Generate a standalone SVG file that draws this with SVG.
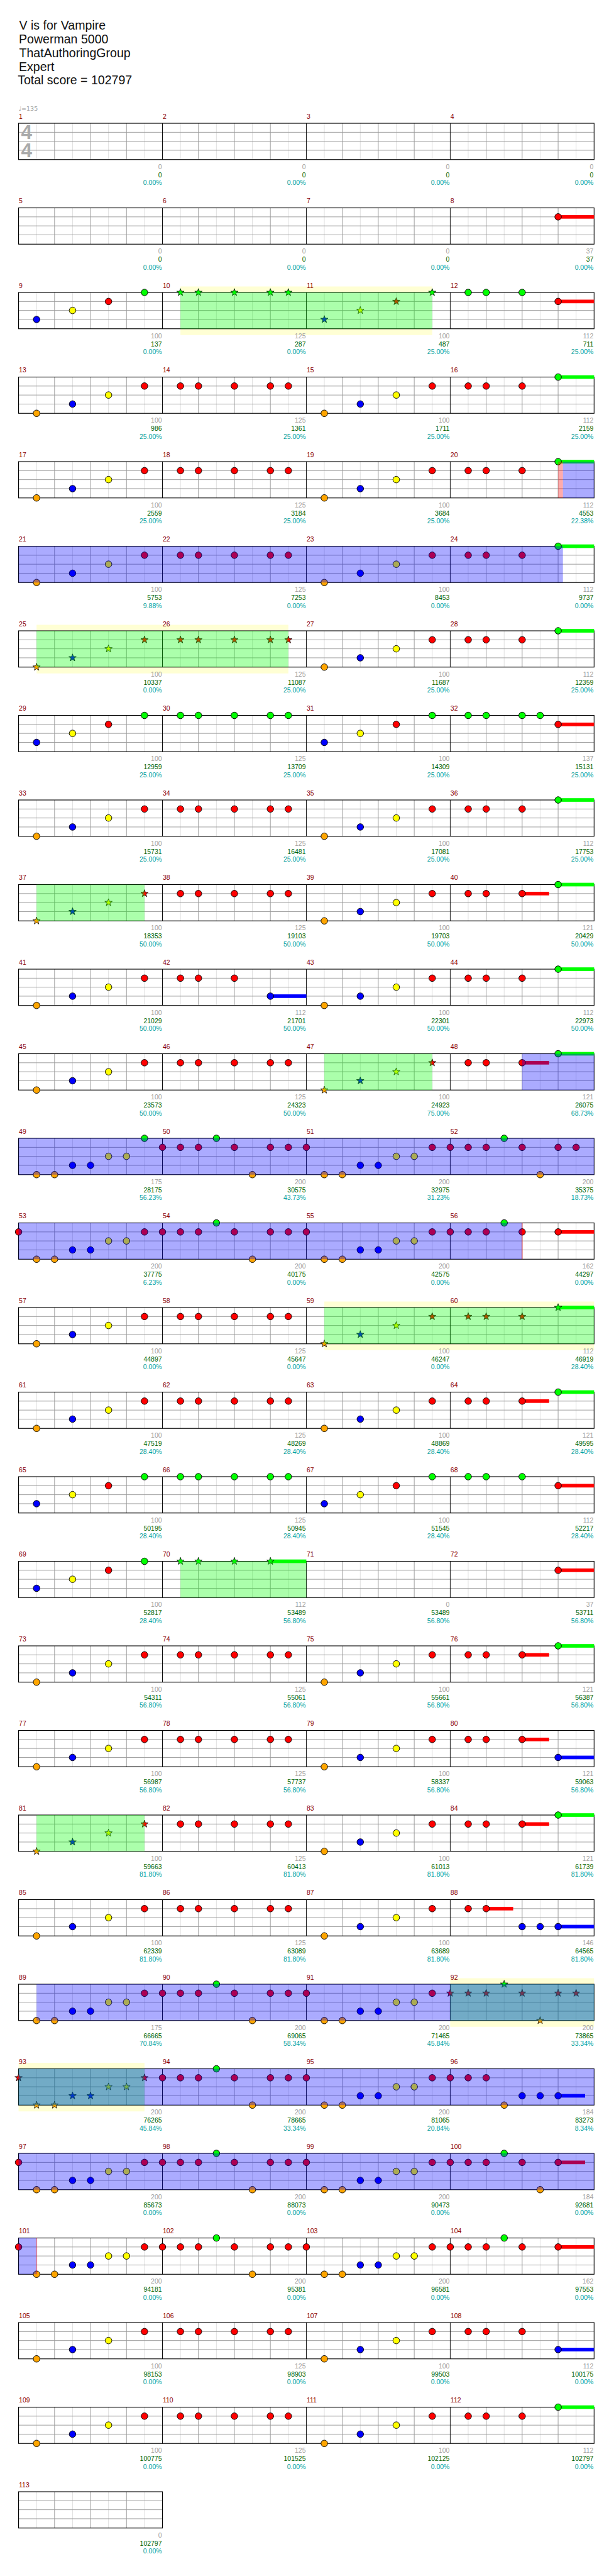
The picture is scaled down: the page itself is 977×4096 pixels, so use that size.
<svg xmlns="http://www.w3.org/2000/svg" width="977" height="4096" viewBox="0 0 977 4096">
<style>
text{font-family:"Liberation Sans",Arial,sans-serif}
.ti{font-size:20.5px;fill:#111}
.tp{font-family:"DejaVu Sans",sans-serif;font-size:10px;fill:#a0a0a0}
.ts{font-size:33px;font-weight:bold;fill:#aaa}
.mn{font-size:11px;fill:#8b0000}
.a,.c,.p{font-size:11px;text-anchor:end}
.a{fill:#a0a0a0}.c{fill:#006400}.p{fill:#00a0a0}
.g{fill:#00ff00}.r{fill:#ff0000}.y{fill:#ffff00}.b{fill:#0000ff}.o{fill:#ffa500}
.sp{fill:#00ff00;fill-opacity:.33}
.ov{fill:#0000ff;fill-opacity:.33}
.yb{fill:#ffffd4}
.pk{fill:#ff0000;fill-opacity:.33}
.lt{stroke:#ddd;stroke-width:1;fill:none}
.dk{stroke:#999;stroke-width:1;fill:none}
.bl{stroke:#000;stroke-width:1;fill:none}
.bd{stroke:#000;stroke-width:1.2;fill:none}
</style>
<defs>
<circle id="n" r="5.5" stroke="#000" stroke-width="1"/>
<path id="s" d="M0-6.5L1.53-2.1L6.18-2.01L2.47.8L3.82 5.26L0 2.6L-3.82 5.26L-2.47.8L-6.18-2.01L-1.53-2.1Z" stroke="#000" stroke-width=".8"/>
<g id="st4">
<rect x="31" y="0" width="960" height="60.5" fill="#fff"/>
<path class="lt" d="M61 0V60.5M121 0V60.5M181 0V60.5M241 0V60.5M301 0V60.5M361 0V60.5M421 0V60.5M481 0V60.5M541 0V60.5M601 0V60.5M661 0V60.5M721 0V60.5M781 0V60.5M841 0V60.5M901 0V60.5M961 0V60.5"/>
<path class="dk" d="M91 0V60.5M151 0V60.5M211 0V60.5M331 0V60.5M391 0V60.5M451 0V60.5M571 0V60.5M631 0V60.5M691 0V60.5M811 0V60.5M871 0V60.5M931 0V60.5M31 15H991M31 30H991M31 45H991"/>
<path class="bl" d="M271 0V60.5M511 0V60.5M751 0V60.5"/>
<rect class="bd" x="31" y="0" width="960" height="60.5"/>
</g>
<g id="st1">
<rect x="31" y="0" width="240" height="60.5" fill="#fff"/>
<path class="lt" d="M61 0V60.5M121 0V60.5M181 0V60.5M241 0V60.5"/>
<path class="dk" d="M91 0V60.5M151 0V60.5M211 0V60.5M31 15H271M31 30H271M31 45H271"/>
<rect class="bd" x="31" y="0" width="240" height="60.5"/>
</g>
<g id="pA"><use href="#n" class="o" x="61" y="60.5"/><use href="#n" class="b" x="121" y="45"/><use href="#n" class="y" x="181" y="30"/><use href="#n" class="r" x="241" y="15"/></g>
<g id="pB"><use href="#n" class="r" x="61" y="15"/><use href="#n" class="r" x="91" y="15"/><use href="#n" class="r" x="151" y="15"/><use href="#n" class="r" x="211" y="15"/><use href="#n" class="r" x="241" y="15"/></g>
<g id="pD"><use href="#n" class="r" x="61" y="15"/><use href="#n" class="r" x="91" y="15"/><use href="#n" class="r" x="151" y="15"/><rect class="g" x="211" y="-3" width="60" height="6"/><use href="#n" class="g" x="211" y="0"/></g>
<g id="pAu"><use href="#n" class="b" x="61" y="45"/><use href="#n" class="y" x="121" y="30"/><use href="#n" class="r" x="181" y="15"/><use href="#n" class="g" x="241" y="0"/></g>
<g id="pBg"><use href="#n" class="g" x="61" y="0"/><use href="#n" class="g" x="91" y="0"/><use href="#n" class="g" x="151" y="0"/><use href="#n" class="g" x="211" y="0"/><use href="#n" class="g" x="241" y="0"/></g>
<g id="pDg"><use href="#n" class="g" x="61" y="0"/><use href="#n" class="g" x="91" y="0"/><use href="#n" class="g" x="151" y="0"/><rect class="r" x="211" y="12" width="60" height="6"/><use href="#n" class="r" x="211" y="15"/></g>
<g id="pE"><use href="#n" class="r" x="61" y="15"/><use href="#n" class="r" x="91" y="15"/><rect class="r" x="151" y="12" width="45" height="6"/><use href="#n" class="r" x="151" y="15"/><rect class="g" x="211" y="-3" width="60" height="6"/><use href="#n" class="g" x="211" y="0"/></g>
<g id="pF"><use href="#n" class="r" x="61" y="15"/><use href="#n" class="r" x="91" y="15"/><rect class="r" x="151" y="12" width="45" height="6"/><use href="#n" class="r" x="151" y="15"/><rect class="b" x="211" y="42" width="60" height="6"/><use href="#n" class="b" x="211" y="45"/></g>
<g id="pG"><use href="#n" class="r" x="61" y="15"/><use href="#n" class="r" x="91" y="15"/><use href="#n" class="r" x="151" y="15"/><rect class="b" x="211" y="42" width="60" height="6"/><use href="#n" class="b" x="211" y="45"/></g>
<g id="pX"><use href="#n" class="r" x="31" y="15"/><use href="#n" class="o" x="61" y="60.5"/><use href="#n" class="o" x="91" y="60.5"/><use href="#n" class="b" x="121" y="45"/><use href="#n" class="b" x="151" y="45"/><use href="#n" class="y" x="181" y="30"/><use href="#n" class="y" x="211" y="30"/><use href="#n" class="r" x="241" y="15"/></g>
<g id="pY"><use href="#n" class="r" x="31" y="15"/><use href="#n" class="r" x="61" y="15"/><use href="#n" class="r" x="91" y="15"/><use href="#n" class="g" x="121" y="0"/><use href="#n" class="r" x="151" y="15"/><use href="#n" class="o" x="181" y="60.5"/><use href="#n" class="r" x="211" y="15"/><use href="#n" class="r" x="241" y="15"/></g>
<g id="pZ"><use href="#n" class="r" x="31" y="15"/><use href="#n" class="r" x="61" y="15"/><use href="#n" class="r" x="91" y="15"/><use href="#n" class="g" x="121" y="0"/><use href="#n" class="r" x="151" y="15"/><rect class="r" x="211" y="12" width="60" height="6"/><use href="#n" class="r" x="211" y="15"/></g>
</defs>
<g transform="scale(0.9539)">
<rect x="0" y="0" width="1024" height="4294" fill="#fff"/>
<g id="header">
<text class="ti" x="32" y="49">V is for Vampire</text>
<text class="ti" x="31.5" y="72">Powerman 5000</text>
<text class="ti" x="32" y="95">ThatAuthoringGroup</text>
<text class="ti" x="31.5" y="118">Expert</text>
<text class="ti" x="29.5" y="141">Total score = 102797</text>
</g>
<g id="connectors"></g>

<g id="row-m1" transform="translate(0,205.5)">
<use href="#st4"/>
<text class="ts" x="35" y="26.5">4</text><text class="ts" x="35" y="56.5">4</text>
<text class="tp" x="31" y="-21">♩=135</text>
<text class="mn" x="31.5" y="-7.5">1</text><text class="mn" x="271.5" y="-7.5">2</text><text class="mn" x="511.5" y="-7.5">3</text><text class="mn" x="751.5" y="-7.5">4</text>
<text class="a" x="270" y="76.5">0</text><text class="c" x="270" y="90">0</text><text class="p" x="270" y="103">0.00%</text>
<text class="a" x="510" y="76.5">0</text><text class="c" x="510" y="90">0</text><text class="p" x="510" y="103">0.00%</text>
<text class="a" x="750" y="76.5">0</text><text class="c" x="750" y="90">0</text><text class="p" x="750" y="103">0.00%</text>
<text class="a" x="990" y="76.5">0</text><text class="c" x="990" y="90">0</text><text class="p" x="990" y="103">0.00%</text>
</g>

<g id="row-m5" transform="translate(0,346.5)">
<use href="#st4"/>
<rect class="r" x="931" y="12" width="60" height="6"/><use href="#n" class="r" x="931" y="15"/>
<text class="mn" x="31.5" y="-7.5">5</text><text class="mn" x="271.5" y="-7.5">6</text><text class="mn" x="511.5" y="-7.5">7</text><text class="mn" x="751.5" y="-7.5">8</text>
<text class="a" x="270" y="76.5">0</text><text class="c" x="270" y="90">0</text><text class="p" x="270" y="103">0.00%</text>
<text class="a" x="510" y="76.5">0</text><text class="c" x="510" y="90">0</text><text class="p" x="510" y="103">0.00%</text>
<text class="a" x="750" y="76.5">0</text><text class="c" x="750" y="90">0</text><text class="p" x="750" y="103">0.00%</text>
<text class="a" x="990" y="76.5">37</text><text class="c" x="990" y="90">37</text><text class="p" x="990" y="103">0.00%</text>
</g>

<g id="row-m9" transform="translate(0,487.5)">
<rect class="yb" x="301" y="-10" width="420" height="81"/>
<use href="#st4"/>
<use href="#pAu"/>
<use href="#s" class="g" x="301" y="0"/><use href="#s" class="g" x="331" y="0"/><use href="#s" class="g" x="391" y="0"/><use href="#s" class="g" x="451" y="0"/><use href="#s" class="g" x="481" y="0"/>
<use href="#s" class="b" x="541" y="45"/><use href="#s" class="y" x="601" y="30"/><use href="#s" class="r" x="661" y="15"/><use href="#s" class="g" x="721" y="0"/>
<use href="#pDg" x="720"/>
<rect class="sp" x="301" y="0" width="420" height="60.5"/>
<text class="mn" x="31.5" y="-7.5">9</text><text class="mn" x="271.5" y="-7.5">10</text><text class="mn" x="511.5" y="-7.5">11</text><text class="mn" x="751.5" y="-7.5">12</text>
<text class="a" x="270" y="76.5">100</text><text class="c" x="270" y="90">137</text><text class="p" x="270" y="103">0.00%</text>
<text class="a" x="510" y="76.5">125</text><text class="c" x="510" y="90">287</text><text class="p" x="510" y="103">0.00%</text>
<text class="a" x="750" y="76.5">100</text><text class="c" x="750" y="90">487</text><text class="p" x="750" y="103">25.00%</text>
<text class="a" x="990" y="76.5">112</text><text class="c" x="990" y="90">711</text><text class="p" x="990" y="103">25.00%</text>
</g>

<g id="row-m13" transform="translate(0,628.5)">
<use href="#st4"/>
<use href="#pA"/><use href="#pB" x="240"/><use href="#pA" x="480"/><use href="#pD" x="720"/>
<text class="mn" x="31.5" y="-7.5">13</text><text class="mn" x="271.5" y="-7.5">14</text><text class="mn" x="511.5" y="-7.5">15</text><text class="mn" x="751.5" y="-7.5">16</text>
<text class="a" x="270" y="76.5">100</text><text class="c" x="270" y="90">986</text><text class="p" x="270" y="103">25.00%</text>
<text class="a" x="510" y="76.5">125</text><text class="c" x="510" y="90">1361</text><text class="p" x="510" y="103">25.00%</text>
<text class="a" x="750" y="76.5">100</text><text class="c" x="750" y="90">1711</text><text class="p" x="750" y="103">25.00%</text>
<text class="a" x="990" y="76.5">112</text><text class="c" x="990" y="90">2159</text><text class="p" x="990" y="103">25.00%</text>
</g>

<g id="row-m17" transform="translate(0,769.5)">
<use href="#st4"/>
<use href="#pA"/><use href="#pB" x="240"/><use href="#pA" x="480"/><use href="#pD" x="720"/>
<rect class="pk" x="931" y="0" width="8" height="60.5"/><rect class="ov" x="939" y="0" width="52" height="60.5"/>
<text class="mn" x="31.5" y="-7.5">17</text><text class="mn" x="271.5" y="-7.5">18</text><text class="mn" x="511.5" y="-7.5">19</text><text class="mn" x="751.5" y="-7.5">20</text>
<text class="a" x="270" y="76.5">100</text><text class="c" x="270" y="90">2559</text><text class="p" x="270" y="103">25.00%</text>
<text class="a" x="510" y="76.5">125</text><text class="c" x="510" y="90">3184</text><text class="p" x="510" y="103">25.00%</text>
<text class="a" x="750" y="76.5">100</text><text class="c" x="750" y="90">3684</text><text class="p" x="750" y="103">25.00%</text>
<text class="a" x="990" y="76.5">112</text><text class="c" x="990" y="90">4553</text><text class="p" x="990" y="103">22.38%</text>
</g>

<g id="row-m21" transform="translate(0,910.5)">
<use href="#st4"/>
<use href="#pA"/><use href="#pB" x="240"/><use href="#pA" x="480"/><use href="#pD" x="720"/>
<rect class="ov" x="31" y="0" width="908" height="60.5"/>
<text class="mn" x="31.5" y="-7.5">21</text><text class="mn" x="271.5" y="-7.5">22</text><text class="mn" x="511.5" y="-7.5">23</text><text class="mn" x="751.5" y="-7.5">24</text>
<text class="a" x="270" y="76.5">100</text><text class="c" x="270" y="90">5753</text><text class="p" x="270" y="103">9.88%</text>
<text class="a" x="510" y="76.5">125</text><text class="c" x="510" y="90">7253</text><text class="p" x="510" y="103">0.00%</text>
<text class="a" x="750" y="76.5">100</text><text class="c" x="750" y="90">8453</text><text class="p" x="750" y="103">0.00%</text>
<text class="a" x="990" y="76.5">112</text><text class="c" x="990" y="90">9737</text><text class="p" x="990" y="103">0.00%</text>
</g>

<g id="row-m25" transform="translate(0,1051.5)">
<rect class="yb" x="61" y="-10" width="420" height="81"/>
<use href="#st4"/>
<use href="#s" class="o" x="61" y="60.5"/><use href="#s" class="b" x="121" y="45"/><use href="#s" class="y" x="181" y="30"/><use href="#s" class="r" x="241" y="15"/>
<use href="#s" class="r" x="301" y="15"/><use href="#s" class="r" x="331" y="15"/><use href="#s" class="r" x="391" y="15"/><use href="#s" class="r" x="451" y="15"/><use href="#s" class="r" x="481" y="15"/>
<use href="#pA" x="480"/><use href="#pD" x="720"/>
<rect class="sp" x="61" y="0" width="420" height="60.5"/>
<text class="mn" x="31.5" y="-7.5">25</text><text class="mn" x="271.5" y="-7.5">26</text><text class="mn" x="511.5" y="-7.5">27</text><text class="mn" x="751.5" y="-7.5">28</text>
<text class="a" x="270" y="76.5">100</text><text class="c" x="270" y="90">10337</text><text class="p" x="270" y="103">0.00%</text>
<text class="a" x="510" y="76.5">125</text><text class="c" x="510" y="90">11087</text><text class="p" x="510" y="103">25.00%</text>
<text class="a" x="750" y="76.5">100</text><text class="c" x="750" y="90">11687</text><text class="p" x="750" y="103">25.00%</text>
<text class="a" x="990" y="76.5">112</text><text class="c" x="990" y="90">12359</text><text class="p" x="990" y="103">25.00%</text>
</g>

<g id="row-m29" transform="translate(0,1192.5)">
<use href="#st4"/>
<use href="#pAu"/><use href="#pBg" x="240"/><use href="#pAu" x="480"/>
<use href="#n" class="g" x="781" y="0"/><use href="#n" class="g" x="811" y="0"/><use href="#n" class="g" x="871" y="0"/><use href="#n" class="g" x="901" y="0"/>
<rect class="r" x="931" y="12" width="60" height="6"/><use href="#n" class="r" x="931" y="15"/>
<text class="mn" x="31.5" y="-7.5">29</text><text class="mn" x="271.5" y="-7.5">30</text><text class="mn" x="511.5" y="-7.5">31</text><text class="mn" x="751.5" y="-7.5">32</text>
<text class="a" x="270" y="76.5">100</text><text class="c" x="270" y="90">12959</text><text class="p" x="270" y="103">25.00%</text>
<text class="a" x="510" y="76.5">125</text><text class="c" x="510" y="90">13709</text><text class="p" x="510" y="103">25.00%</text>
<text class="a" x="750" y="76.5">100</text><text class="c" x="750" y="90">14309</text><text class="p" x="750" y="103">25.00%</text>
<text class="a" x="990" y="76.5">137</text><text class="c" x="990" y="90">15131</text><text class="p" x="990" y="103">25.00%</text>
</g>

<g id="row-m33" transform="translate(0,1333.5)">
<use href="#st4"/>
<use href="#pA"/><use href="#pB" x="240"/><use href="#pA" x="480"/><use href="#pD" x="720"/>
<text class="mn" x="31.5" y="-7.5">33</text><text class="mn" x="271.5" y="-7.5">34</text><text class="mn" x="511.5" y="-7.5">35</text><text class="mn" x="751.5" y="-7.5">36</text>
<text class="a" x="270" y="76.5">100</text><text class="c" x="270" y="90">15731</text><text class="p" x="270" y="103">25.00%</text>
<text class="a" x="510" y="76.5">125</text><text class="c" x="510" y="90">16481</text><text class="p" x="510" y="103">25.00%</text>
<text class="a" x="750" y="76.5">100</text><text class="c" x="750" y="90">17081</text><text class="p" x="750" y="103">25.00%</text>
<text class="a" x="990" y="76.5">112</text><text class="c" x="990" y="90">17753</text><text class="p" x="990" y="103">25.00%</text>
</g>

<g id="row-m37" transform="translate(0,1474.5)">
<use href="#st4"/>
<use href="#s" class="o" x="61" y="60.5"/><use href="#s" class="b" x="121" y="45"/><use href="#s" class="y" x="181" y="30"/><use href="#s" class="r" x="241" y="15"/>
<use href="#pB" x="240"/><use href="#pA" x="480"/><use href="#pE" x="720"/>
<rect class="sp" x="61" y="0" width="180" height="60.5"/>
<text class="mn" x="31.5" y="-7.5">37</text><text class="mn" x="271.5" y="-7.5">38</text><text class="mn" x="511.5" y="-7.5">39</text><text class="mn" x="751.5" y="-7.5">40</text>
<text class="a" x="270" y="76.5">100</text><text class="c" x="270" y="90">18353</text><text class="p" x="270" y="103">50.00%</text>
<text class="a" x="510" y="76.5">125</text><text class="c" x="510" y="90">19103</text><text class="p" x="510" y="103">50.00%</text>
<text class="a" x="750" y="76.5">100</text><text class="c" x="750" y="90">19703</text><text class="p" x="750" y="103">50.00%</text>
<text class="a" x="990" y="76.5">121</text><text class="c" x="990" y="90">20429</text><text class="p" x="990" y="103">50.00%</text>
</g>

<g id="row-m41" transform="translate(0,1615.5)">
<use href="#st4"/>
<use href="#pA"/><use href="#pG" x="240"/><use href="#pA" x="480"/><use href="#pD" x="720"/>
<text class="mn" x="31.5" y="-7.5">41</text><text class="mn" x="271.5" y="-7.5">42</text><text class="mn" x="511.5" y="-7.5">43</text><text class="mn" x="751.5" y="-7.5">44</text>
<text class="a" x="270" y="76.5">100</text><text class="c" x="270" y="90">21029</text><text class="p" x="270" y="103">50.00%</text>
<text class="a" x="510" y="76.5">112</text><text class="c" x="510" y="90">21701</text><text class="p" x="510" y="103">50.00%</text>
<text class="a" x="750" y="76.5">100</text><text class="c" x="750" y="90">22301</text><text class="p" x="750" y="103">50.00%</text>
<text class="a" x="990" y="76.5">112</text><text class="c" x="990" y="90">22973</text><text class="p" x="990" y="103">50.00%</text>
</g>

<g id="row-m45" transform="translate(0,1756.5)">
<use href="#st4"/>
<use href="#pA"/><use href="#pB" x="240"/>
<use href="#s" class="o" x="541" y="60.5"/><use href="#s" class="b" x="601" y="45"/><use href="#s" class="y" x="661" y="30"/><use href="#s" class="r" x="721" y="15"/>
<use href="#pE" x="720"/>
<rect class="sp" x="541" y="0" width="180" height="60.5"/>
<rect class="ov" x="871" y="0" width="120" height="60.5"/>
<text class="mn" x="31.5" y="-7.5">45</text><text class="mn" x="271.5" y="-7.5">46</text><text class="mn" x="511.5" y="-7.5">47</text><text class="mn" x="751.5" y="-7.5">48</text>
<text class="a" x="270" y="76.5">100</text><text class="c" x="270" y="90">23573</text><text class="p" x="270" y="103">50.00%</text>
<text class="a" x="510" y="76.5">125</text><text class="c" x="510" y="90">24323</text><text class="p" x="510" y="103">50.00%</text>
<text class="a" x="750" y="76.5">100</text><text class="c" x="750" y="90">24923</text><text class="p" x="750" y="103">75.00%</text>
<text class="a" x="990" y="76.5">121</text><text class="c" x="990" y="90">26075</text><text class="p" x="990" y="103">68.73%</text>
</g>

<g id="row-m49" transform="translate(0,1897.5)">
<use href="#st4"/>
<use href="#n" class="o" x="61" y="60.5"/><use href="#n" class="o" x="91" y="60.5"/><use href="#n" class="b" x="121" y="45"/><use href="#n" class="b" x="151" y="45"/><use href="#n" class="y" x="181" y="30"/><use href="#n" class="y" x="211" y="30"/><use href="#n" class="g" x="241" y="0"/>
<use href="#pY" x="240"/><use href="#pX" x="480"/><use href="#pY" x="720"/>
<rect class="ov" x="31" y="0" width="960" height="60.5"/>
<text class="mn" x="31.5" y="-7.5">49</text><text class="mn" x="271.5" y="-7.5">50</text><text class="mn" x="511.5" y="-7.5">51</text><text class="mn" x="751.5" y="-7.5">52</text>
<text class="a" x="270" y="76.5">175</text><text class="c" x="270" y="90">28175</text><text class="p" x="270" y="103">56.23%</text>
<text class="a" x="510" y="76.5">200</text><text class="c" x="510" y="90">30575</text><text class="p" x="510" y="103">43.73%</text>
<text class="a" x="750" y="76.5">200</text><text class="c" x="750" y="90">32975</text><text class="p" x="750" y="103">31.23%</text>
<text class="a" x="990" y="76.5">200</text><text class="c" x="990" y="90">35375</text><text class="p" x="990" y="103">18.73%</text>
</g>

<g id="row-m53" transform="translate(0,2038.5)">
<use href="#st4"/>
<use href="#pX"/><use href="#pY" x="240"/><use href="#pX" x="480"/><use href="#pZ" x="720"/>
<rect class="ov" x="31" y="0" width="840" height="60.5"/>
<rect class="pk" x="870" y="0" width="2" height="60.5"/>
<text class="mn" x="31.5" y="-7.5">53</text><text class="mn" x="271.5" y="-7.5">54</text><text class="mn" x="511.5" y="-7.5">55</text><text class="mn" x="751.5" y="-7.5">56</text>
<text class="a" x="270" y="76.5">200</text><text class="c" x="270" y="90">37775</text><text class="p" x="270" y="103">6.23%</text>
<text class="a" x="510" y="76.5">200</text><text class="c" x="510" y="90">40175</text><text class="p" x="510" y="103">0.00%</text>
<text class="a" x="750" y="76.5">200</text><text class="c" x="750" y="90">42575</text><text class="p" x="750" y="103">0.00%</text>
<text class="a" x="990" y="76.5">162</text><text class="c" x="990" y="90">44297</text><text class="p" x="990" y="103">0.00%</text>
</g>

<g id="row-m57" transform="translate(0,2179.5)">
<rect class="yb" x="541" y="-10" width="450" height="81"/>
<use href="#st4"/>
<use href="#pA"/><use href="#pB" x="240"/>
<use href="#s" class="o" x="541" y="60.5"/><use href="#s" class="b" x="601" y="45"/><use href="#s" class="y" x="661" y="30"/><use href="#s" class="r" x="721" y="15"/>
<use href="#s" class="r" x="781" y="15"/><use href="#s" class="r" x="811" y="15"/><use href="#s" class="r" x="871" y="15"/>
<rect class="g" x="931" y="-3" width="60" height="6"/><use href="#s" class="g" x="931" y="0"/>
<rect class="sp" x="541" y="0" width="450" height="60.5"/>
<text class="mn" x="31.5" y="-7.5">57</text><text class="mn" x="271.5" y="-7.5">58</text><text class="mn" x="511.5" y="-7.5">59</text><text class="mn" x="751.5" y="-7.5">60</text>
<text class="a" x="270" y="76.5">100</text><text class="c" x="270" y="90">44897</text><text class="p" x="270" y="103">0.00%</text>
<text class="a" x="510" y="76.5">125</text><text class="c" x="510" y="90">45647</text><text class="p" x="510" y="103">0.00%</text>
<text class="a" x="750" y="76.5">100</text><text class="c" x="750" y="90">46247</text><text class="p" x="750" y="103">0.00%</text>
<text class="a" x="990" y="76.5">112</text><text class="c" x="990" y="90">46919</text><text class="p" x="990" y="103">28.40%</text>
</g>

<g id="row-m61" transform="translate(0,2320.5)">
<use href="#st4"/>
<use href="#pA"/><use href="#pB" x="240"/><use href="#pA" x="480"/><use href="#pE" x="720"/>
<text class="mn" x="31.5" y="-7.5">61</text><text class="mn" x="271.5" y="-7.5">62</text><text class="mn" x="511.5" y="-7.5">63</text><text class="mn" x="751.5" y="-7.5">64</text>
<text class="a" x="270" y="76.5">100</text><text class="c" x="270" y="90">47519</text><text class="p" x="270" y="103">28.40%</text>
<text class="a" x="510" y="76.5">125</text><text class="c" x="510" y="90">48269</text><text class="p" x="510" y="103">28.40%</text>
<text class="a" x="750" y="76.5">100</text><text class="c" x="750" y="90">48869</text><text class="p" x="750" y="103">28.40%</text>
<text class="a" x="990" y="76.5">121</text><text class="c" x="990" y="90">49595</text><text class="p" x="990" y="103">28.40%</text>
</g>

<g id="row-m65" transform="translate(0,2461.5)">
<use href="#st4"/>
<use href="#pAu"/><use href="#pBg" x="240"/><use href="#pAu" x="480"/><use href="#pDg" x="720"/>
<text class="mn" x="31.5" y="-7.5">65</text><text class="mn" x="271.5" y="-7.5">66</text><text class="mn" x="511.5" y="-7.5">67</text><text class="mn" x="751.5" y="-7.5">68</text>
<text class="a" x="270" y="76.5">100</text><text class="c" x="270" y="90">50195</text><text class="p" x="270" y="103">28.40%</text>
<text class="a" x="510" y="76.5">125</text><text class="c" x="510" y="90">50945</text><text class="p" x="510" y="103">28.40%</text>
<text class="a" x="750" y="76.5">100</text><text class="c" x="750" y="90">51545</text><text class="p" x="750" y="103">28.40%</text>
<text class="a" x="990" y="76.5">112</text><text class="c" x="990" y="90">52217</text><text class="p" x="990" y="103">28.40%</text>
</g>

<g id="row-m69" transform="translate(0,2602.5)">
<use href="#st4"/>
<use href="#pAu"/>
<rect class="g" x="451" y="-3" width="60" height="6"/>
<use href="#s" class="g" x="301" y="0"/><use href="#s" class="g" x="331" y="0"/><use href="#s" class="g" x="391" y="0"/><use href="#s" class="g" x="451" y="0"/>
<rect class="r" x="931" y="12" width="60" height="6"/><use href="#n" class="r" x="931" y="15"/>
<rect class="sp" x="301" y="0" width="210" height="60.5"/>
<text class="mn" x="31.5" y="-7.5">69</text><text class="mn" x="271.5" y="-7.5">70</text><text class="mn" x="511.5" y="-7.5">71</text><text class="mn" x="751.5" y="-7.5">72</text>
<text class="a" x="270" y="76.5">100</text><text class="c" x="270" y="90">52817</text><text class="p" x="270" y="103">28.40%</text>
<text class="a" x="510" y="76.5">112</text><text class="c" x="510" y="90">53489</text><text class="p" x="510" y="103">56.80%</text>
<text class="a" x="750" y="76.5">0</text><text class="c" x="750" y="90">53489</text><text class="p" x="750" y="103">56.80%</text>
<text class="a" x="990" y="76.5">37</text><text class="c" x="990" y="90">53711</text><text class="p" x="990" y="103">56.80%</text>
</g>

<g id="row-m73" transform="translate(0,2743.5)">
<use href="#st4"/>
<use href="#pA"/><use href="#pB" x="240"/><use href="#pA" x="480"/><use href="#pE" x="720"/>
<text class="mn" x="31.5" y="-7.5">73</text><text class="mn" x="271.5" y="-7.5">74</text><text class="mn" x="511.5" y="-7.5">75</text><text class="mn" x="751.5" y="-7.5">76</text>
<text class="a" x="270" y="76.5">100</text><text class="c" x="270" y="90">54311</text><text class="p" x="270" y="103">56.80%</text>
<text class="a" x="510" y="76.5">125</text><text class="c" x="510" y="90">55061</text><text class="p" x="510" y="103">56.80%</text>
<text class="a" x="750" y="76.5">100</text><text class="c" x="750" y="90">55661</text><text class="p" x="750" y="103">56.80%</text>
<text class="a" x="990" y="76.5">121</text><text class="c" x="990" y="90">56387</text><text class="p" x="990" y="103">56.80%</text>
</g>

<g id="row-m77" transform="translate(0,2884.5)">
<use href="#st4"/>
<use href="#pA"/><use href="#pB" x="240"/><use href="#pA" x="480"/><use href="#pF" x="720"/>
<text class="mn" x="31.5" y="-7.5">77</text><text class="mn" x="271.5" y="-7.5">78</text><text class="mn" x="511.5" y="-7.5">79</text><text class="mn" x="751.5" y="-7.5">80</text>
<text class="a" x="270" y="76.5">100</text><text class="c" x="270" y="90">56987</text><text class="p" x="270" y="103">56.80%</text>
<text class="a" x="510" y="76.5">125</text><text class="c" x="510" y="90">57737</text><text class="p" x="510" y="103">56.80%</text>
<text class="a" x="750" y="76.5">100</text><text class="c" x="750" y="90">58337</text><text class="p" x="750" y="103">56.80%</text>
<text class="a" x="990" y="76.5">121</text><text class="c" x="990" y="90">59063</text><text class="p" x="990" y="103">56.80%</text>
</g>

<g id="row-m81" transform="translate(0,3025.5)">
<use href="#st4"/>
<use href="#s" class="o" x="61" y="60.5"/><use href="#s" class="b" x="121" y="45"/><use href="#s" class="y" x="181" y="30"/><use href="#s" class="r" x="241" y="15"/>
<use href="#pB" x="240"/><use href="#pA" x="480"/><use href="#pE" x="720"/>
<rect class="sp" x="61" y="0" width="180" height="60.5"/>
<text class="mn" x="31.5" y="-7.5">81</text><text class="mn" x="271.5" y="-7.5">82</text><text class="mn" x="511.5" y="-7.5">83</text><text class="mn" x="751.5" y="-7.5">84</text>
<text class="a" x="270" y="76.5">100</text><text class="c" x="270" y="90">59663</text><text class="p" x="270" y="103">81.80%</text>
<text class="a" x="510" y="76.5">125</text><text class="c" x="510" y="90">60413</text><text class="p" x="510" y="103">81.80%</text>
<text class="a" x="750" y="76.5">100</text><text class="c" x="750" y="90">61013</text><text class="p" x="750" y="103">81.80%</text>
<text class="a" x="990" y="76.5">121</text><text class="c" x="990" y="90">61739</text><text class="p" x="990" y="103">81.80%</text>
</g>

<g id="row-m85" transform="translate(0,3166.5)">
<use href="#st4"/>
<use href="#pA"/><use href="#pB" x="240"/><use href="#pA" x="480"/>
<use href="#n" class="r" x="781" y="15"/><rect class="r" x="811" y="12" width="45" height="6"/><use href="#n" class="r" x="811" y="15"/>
<use href="#n" class="b" x="871" y="45"/><use href="#n" class="b" x="901" y="45"/><rect class="b" x="931" y="42" width="60" height="6"/><use href="#n" class="b" x="931" y="45"/>
<text class="mn" x="31.5" y="-7.5">85</text><text class="mn" x="271.5" y="-7.5">86</text><text class="mn" x="511.5" y="-7.5">87</text><text class="mn" x="751.5" y="-7.5">88</text>
<text class="a" x="270" y="76.5">100</text><text class="c" x="270" y="90">62339</text><text class="p" x="270" y="103">81.80%</text>
<text class="a" x="510" y="76.5">125</text><text class="c" x="510" y="90">63089</text><text class="p" x="510" y="103">81.80%</text>
<text class="a" x="750" y="76.5">100</text><text class="c" x="750" y="90">63689</text><text class="p" x="750" y="103">81.80%</text>
<text class="a" x="990" y="76.5">146</text><text class="c" x="990" y="90">64565</text><text class="p" x="990" y="103">81.80%</text>
</g>

<g id="row-m89" transform="translate(0,3307.5)">
<rect class="yb" x="751" y="-10" width="240" height="81"/>
<use href="#st4"/>
<use href="#n" class="o" x="61" y="60.5"/><use href="#n" class="o" x="91" y="60.5"/><use href="#n" class="b" x="121" y="45"/><use href="#n" class="b" x="151" y="45"/><use href="#n" class="y" x="181" y="30"/><use href="#n" class="y" x="211" y="30"/><use href="#n" class="r" x="241" y="15"/>
<use href="#pY" x="240"/><use href="#pX" x="480"/>
<use href="#s" class="r" x="751" y="15"/><use href="#s" class="r" x="781" y="15"/><use href="#s" class="r" x="811" y="15"/><use href="#s" class="g" x="841" y="0"/><use href="#s" class="r" x="871" y="15"/><use href="#s" class="o" x="901" y="60.5"/><use href="#s" class="r" x="931" y="15"/><use href="#s" class="r" x="961" y="15"/>
<rect class="sp" x="751" y="0" width="240" height="60.5"/>
<rect class="ov" x="61" y="0" width="930" height="60.5"/>
<text class="mn" x="31.5" y="-7.5">89</text><text class="mn" x="271.5" y="-7.5">90</text><text class="mn" x="511.5" y="-7.5">91</text><text class="mn" x="751.5" y="-7.5">92</text>
<text class="a" x="270" y="76.5">175</text><text class="c" x="270" y="90">66665</text><text class="p" x="270" y="103">70.84%</text>
<text class="a" x="510" y="76.5">200</text><text class="c" x="510" y="90">69065</text><text class="p" x="510" y="103">58.34%</text>
<text class="a" x="750" y="76.5">200</text><text class="c" x="750" y="90">71465</text><text class="p" x="750" y="103">45.84%</text>
<text class="a" x="990" y="76.5">200</text><text class="c" x="990" y="90">73865</text><text class="p" x="990" y="103">33.34%</text>
</g>

<g id="row-m93" transform="translate(0,3448.5)">
<rect class="yb" x="31" y="-10" width="210" height="81"/>
<use href="#st4"/>
<use href="#s" class="r" x="31" y="15"/><use href="#s" class="o" x="61" y="60.5"/><use href="#s" class="o" x="91" y="60.5"/><use href="#s" class="b" x="121" y="45"/><use href="#s" class="b" x="151" y="45"/><use href="#s" class="y" x="181" y="30"/><use href="#s" class="y" x="211" y="30"/><use href="#s" class="r" x="241" y="15"/>
<use href="#pY" x="240"/><use href="#pX" x="480"/>
<use href="#n" class="r" x="751" y="15"/><use href="#n" class="r" x="781" y="15"/><use href="#n" class="r" x="811" y="15"/><use href="#n" class="o" x="841" y="60.5"/><use href="#n" class="b" x="871" y="45"/><use href="#n" class="b" x="901" y="45"/>
<rect class="b" x="931" y="42" width="45" height="6"/><use href="#n" class="b" x="931" y="45"/>
<rect class="sp" x="31" y="0" width="210" height="60.5"/>
<rect class="ov" x="31" y="0" width="960" height="60.5"/>
<text class="mn" x="31.5" y="-7.5">93</text><text class="mn" x="271.5" y="-7.5">94</text><text class="mn" x="511.5" y="-7.5">95</text><text class="mn" x="751.5" y="-7.5">96</text>
<text class="a" x="270" y="76.5">200</text><text class="c" x="270" y="90">76265</text><text class="p" x="270" y="103">45.84%</text>
<text class="a" x="510" y="76.5">200</text><text class="c" x="510" y="90">78665</text><text class="p" x="510" y="103">33.34%</text>
<text class="a" x="750" y="76.5">200</text><text class="c" x="750" y="90">81065</text><text class="p" x="750" y="103">20.84%</text>
<text class="a" x="990" y="76.5">184</text><text class="c" x="990" y="90">83273</text><text class="p" x="990" y="103">8.34%</text>
</g>

<g id="row-m97" transform="translate(0,3589.5)">
<use href="#st4"/>
<use href="#pX"/><use href="#pY" x="240"/><use href="#pX" x="480"/>
<use href="#n" class="r" x="751" y="15"/><use href="#n" class="r" x="781" y="15"/><use href="#n" class="r" x="811" y="15"/><use href="#n" class="g" x="841" y="0"/><use href="#n" class="r" x="871" y="15"/><use href="#n" class="o" x="901" y="60.5"/>
<rect class="r" x="931" y="12" width="45" height="6"/><use href="#n" class="r" x="931" y="15"/>
<rect class="ov" x="31" y="0" width="960" height="60.5"/>
<text class="mn" x="31.5" y="-7.5">97</text><text class="mn" x="271.5" y="-7.5">98</text><text class="mn" x="511.5" y="-7.5">99</text><text class="mn" x="751.5" y="-7.5">100</text>
<text class="a" x="270" y="76.5">200</text><text class="c" x="270" y="90">85673</text><text class="p" x="270" y="103">0.00%</text>
<text class="a" x="510" y="76.5">200</text><text class="c" x="510" y="90">88073</text><text class="p" x="510" y="103">0.00%</text>
<text class="a" x="750" y="76.5">200</text><text class="c" x="750" y="90">90473</text><text class="p" x="750" y="103">0.00%</text>
<text class="a" x="990" y="76.5">184</text><text class="c" x="990" y="90">92681</text><text class="p" x="990" y="103">0.00%</text>
</g>

<g id="row-m101" transform="translate(0,3730.5)">
<use href="#st4"/>
<use href="#pX"/><use href="#pY" x="240"/><use href="#pX" x="480"/><use href="#pZ" x="720"/>
<rect class="ov" x="31" y="0" width="30" height="60.5"/>
<rect class="pk" x="60" y="0" width="2" height="60.5"/>
<text class="mn" x="31.5" y="-7.5">101</text><text class="mn" x="271.5" y="-7.5">102</text><text class="mn" x="511.5" y="-7.5">103</text><text class="mn" x="751.5" y="-7.5">104</text>
<text class="a" x="270" y="76.5">200</text><text class="c" x="270" y="90">94181</text><text class="p" x="270" y="103">0.00%</text>
<text class="a" x="510" y="76.5">200</text><text class="c" x="510" y="90">95381</text><text class="p" x="510" y="103">0.00%</text>
<text class="a" x="750" y="76.5">200</text><text class="c" x="750" y="90">96581</text><text class="p" x="750" y="103">0.00%</text>
<text class="a" x="990" y="76.5">162</text><text class="c" x="990" y="90">97553</text><text class="p" x="990" y="103">0.00%</text>
</g>

<g id="row-m105" transform="translate(0,3871.5)">
<use href="#st4"/>
<use href="#pA"/><use href="#pB" x="240"/><use href="#pA" x="480"/><use href="#pG" x="720"/>
<text class="mn" x="31.5" y="-7.5">105</text><text class="mn" x="271.5" y="-7.5">106</text><text class="mn" x="511.5" y="-7.5">107</text><text class="mn" x="751.5" y="-7.5">108</text>
<text class="a" x="270" y="76.5">100</text><text class="c" x="270" y="90">98153</text><text class="p" x="270" y="103">0.00%</text>
<text class="a" x="510" y="76.5">125</text><text class="c" x="510" y="90">98903</text><text class="p" x="510" y="103">0.00%</text>
<text class="a" x="750" y="76.5">100</text><text class="c" x="750" y="90">99503</text><text class="p" x="750" y="103">0.00%</text>
<text class="a" x="990" y="76.5">112</text><text class="c" x="990" y="90">100175</text><text class="p" x="990" y="103">0.00%</text>
</g>

<g id="row-m109" transform="translate(0,4012.5)">
<use href="#st4"/>
<use href="#pA"/><use href="#pB" x="240"/><use href="#pA" x="480"/><use href="#pD" x="720"/>
<text class="mn" x="31.5" y="-7.5">109</text><text class="mn" x="271.5" y="-7.5">110</text><text class="mn" x="511.5" y="-7.5">111</text><text class="mn" x="751.5" y="-7.5">112</text>
<text class="a" x="270" y="76.5">100</text><text class="c" x="270" y="90">100775</text><text class="p" x="270" y="103">0.00%</text>
<text class="a" x="510" y="76.5">125</text><text class="c" x="510" y="90">101525</text><text class="p" x="510" y="103">0.00%</text>
<text class="a" x="750" y="76.5">100</text><text class="c" x="750" y="90">102125</text><text class="p" x="750" y="103">0.00%</text>
<text class="a" x="990" y="76.5">112</text><text class="c" x="990" y="90">102797</text><text class="p" x="990" y="103">0.00%</text>
</g>

<g id="row-m113" transform="translate(0,4153.5)">
<use href="#st1"/>
<text class="mn" x="31.5" y="-7.5">113</text>
<text class="a" x="270" y="76.5">0</text><text class="c" x="270" y="90">102797</text><text class="p" x="270" y="103">0.00%</text>
</g>
</g>
</svg>
